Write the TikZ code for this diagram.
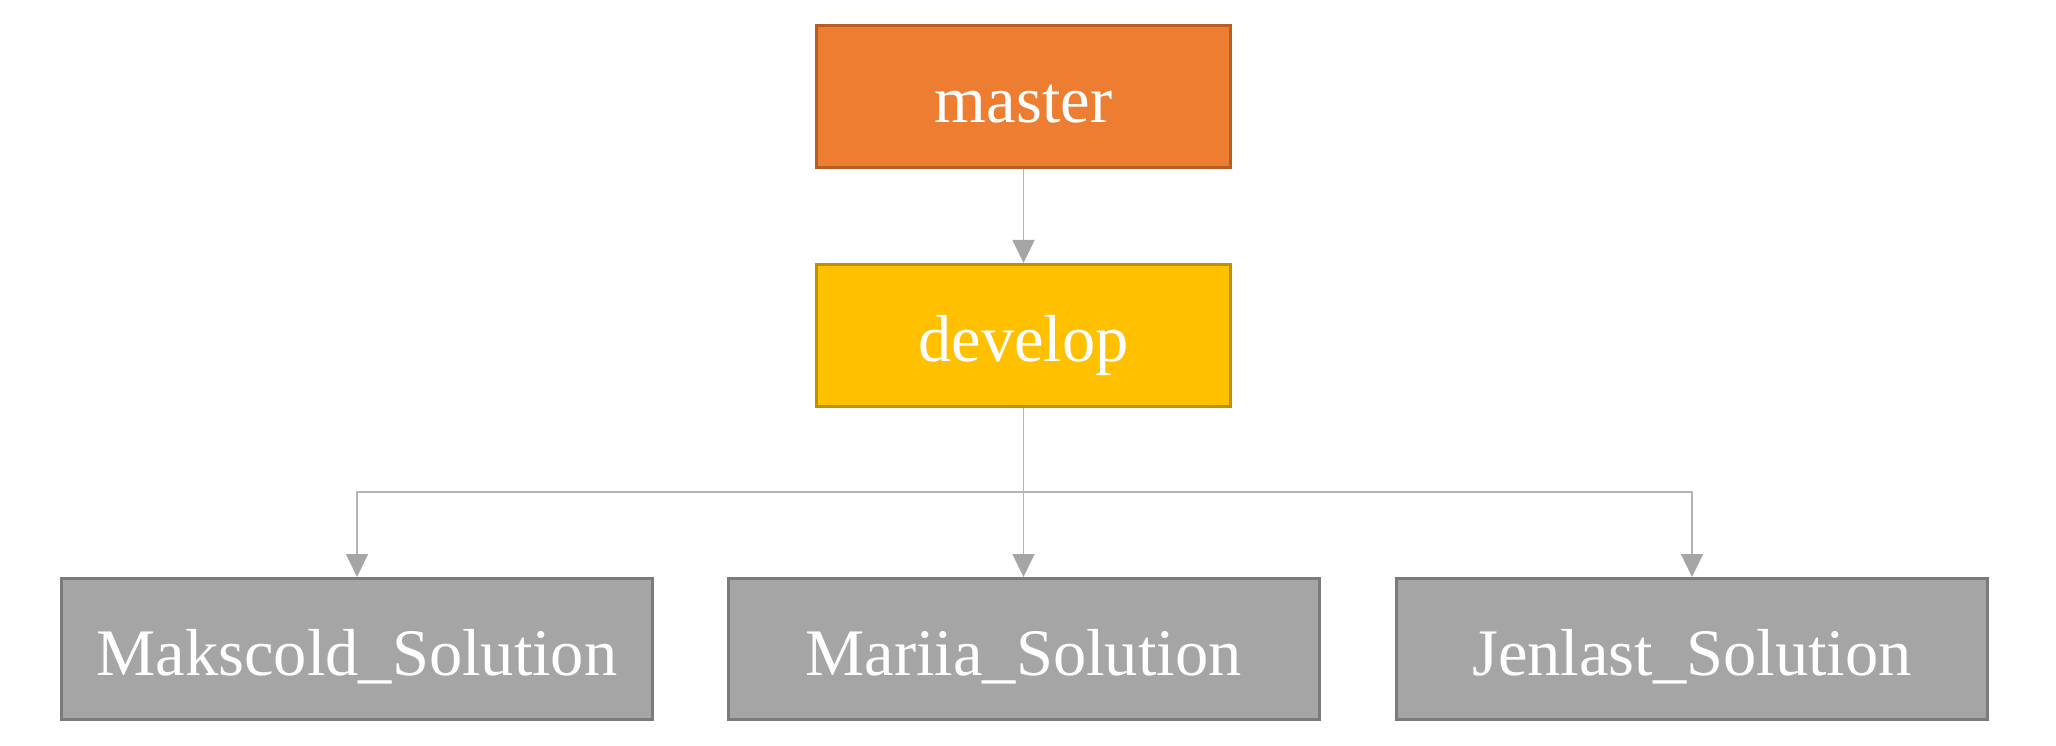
\documentclass[tikz,border=0pt]{standalone}
\usepackage{fontspec}
\setmainfont{Liberation Serif}
\usetikzlibrary{arrows.meta}
\definecolor{orangefill}{HTML}{ED7D31}
\definecolor{orangeline}{HTML}{B55E25}
\definecolor{yellowfill}{HTML}{FFC000}
\definecolor{yellowline}{HTML}{BF9000}
\definecolor{greyfill}{HTML}{A5A5A5}
\definecolor{greyline}{HTML}{7B7B7B}
\definecolor{connline}{HTML}{B4B4B4}
\definecolor{tipgrey}{HTML}{A5A5A5}
\begin{document}
\begin{tikzpicture}[x=1pt,y=-1pt,
  box/.style={rectangle, line width=3pt, inner sep=0pt, text=white,
    text height=52pt, text depth=0pt,
    font=\fontsize{66.5}{80}\selectfont},
  topbox/.style={box, minimum width=414pt, minimum height=142pt},
  leafbox/.style={box, minimum width=591pt, minimum height=141pt, fill=greyfill, draw=greyline},
  conn/.style={draw=connline, line width=1.5pt,
    -{Triangle[width=22pt,length=23pt,fill=tipgrey,color=tipgrey]}}
]
\useasboundingbox (0,0) rectangle (2056,746);
\node[topbox, fill=orangefill, draw=orangeline] (master) at (1023.5,96.5) {master};
\node[topbox, fill=yellowfill, draw=yellowline] (develop) at (1023.5,335.5) {develop};
\node[leafbox] (m1) at (357,649) {Makscold\_Solution};
\node[leafbox] (m2) at (1023.5,649) {Mariia\_Solution};
\node[leafbox] (m3) at (1692,649) {Jenlast\_Solution};
\coordinate (split) at (1023.5,492);
\draw[conn] (master.south) -- (develop.north);
\draw[conn] (develop.south) -- (split) -| (m1.north);
\draw[conn] (develop.south) -- (m2.north);
\draw[conn] (develop.south) -- (split) -| (m3.north);
\end{tikzpicture}
\end{document}
